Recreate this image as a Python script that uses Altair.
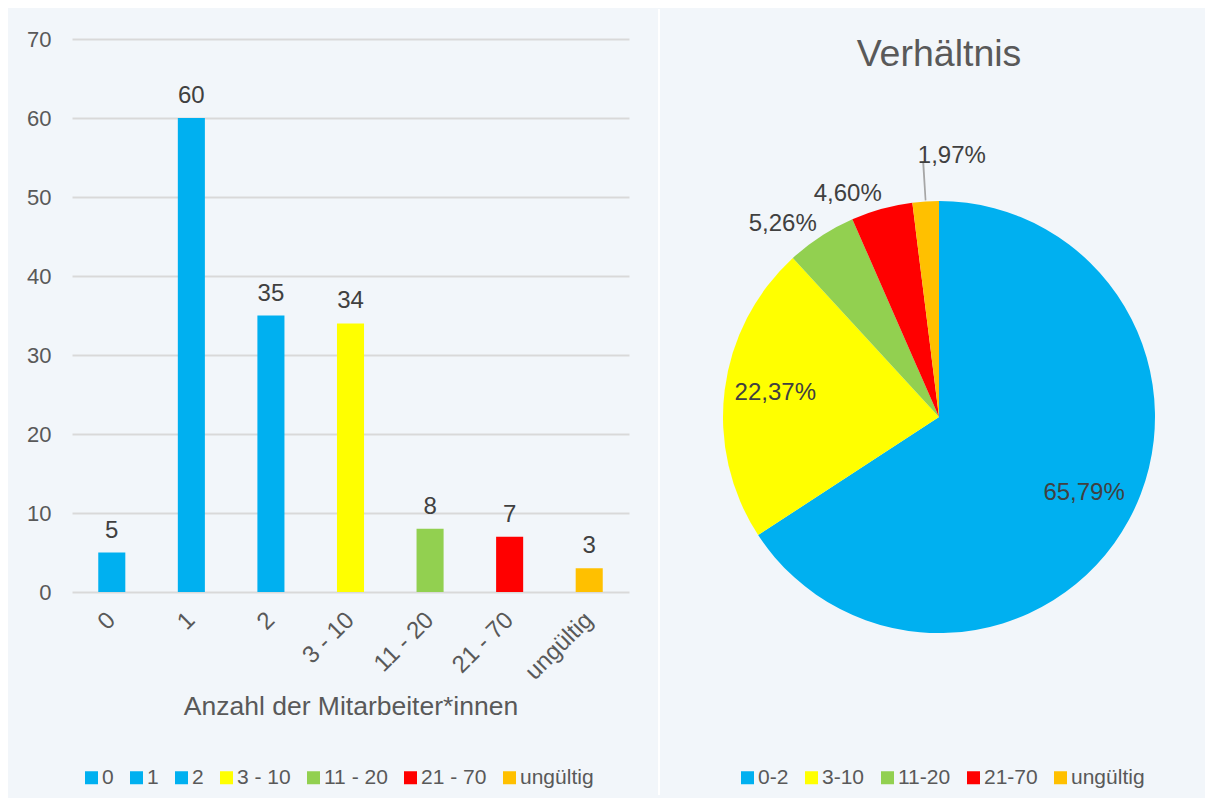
import altair as alt
import pandas as pd

# ---------------- data ----------------
bar_categories = ["0", "1", "2", "3 - 10", "11 - 20", "21 - 70", "ungültig"]
bar_values = [5, 60, 35, 34, 8, 7, 3]
bar_colors = ["#00B0F0", "#00B0F0", "#00B0F0", "#FFFF00", "#92D050", "#FF0000", "#FFC000"]
y_ticks = [0, 10, 20, 30, 40, 50, 60, 70]

pie_categories = ["0-2", "3-10", "11-20", "21-70", "ungültig"]
pie_shares = [65.79, 22.37, 5.26, 4.60, 1.97]
pie_colors = ["#00B0F0", "#FFFF00", "#92D050", "#FF0000", "#FFC000"]

# ---------------- style ----------------
FONT = "Liberation Sans"
AXIS_GREY = "#595959"
LABEL_GREY = "#404040"
BG = "#F2F6FA"

bar_df = pd.DataFrame({"kategorie": bar_categories, "anzahl": bar_values})
pie_df = pd.DataFrame({
    "gruppe": pie_categories,
    "anteil": pie_shares,
    "reihenfolge": list(range(len(pie_categories))),
})

# ---------------- left: bar chart ----------------
bar_color = alt.Color(
    "kategorie:N",
    sort=bar_categories,
    scale=alt.Scale(domain=bar_categories, range=bar_colors),
    legend=alt.Legend(
        orient="none", legendX=9, legendY=728, direction="horizontal",
        title=None, symbolType="square", symbolSize=169, symbolStrokeWidth=0,
        labelFontSize=21, labelColor=AXIS_GREY, labelFont=FONT,
        columnPadding=12, labelOffset=0,
    ),
)

x_enc = alt.X(
    "kategorie:N", sort=bar_categories, title="Anzahl der Mitarbeiter*innen",
    scale=alt.Scale(paddingInner=0.66, paddingOuter=0.33),
    axis=alt.Axis(
        labelAngle=-45, labelAlign="right", labelBaseline="middle",
        labelFontSize=24, labelPadding=24, labelColor=AXIS_GREY, labelFont=FONT,
        ticks=False, domain=False,
        titleFontSize=26.5, titleFont=FONT, titleColor=AXIS_GREY,
        titleFontWeight="normal", titlePadding=10,
    ),
)
y_enc = alt.Y(
    "anzahl:Q", title=None,
    scale=alt.Scale(domain=[0, 70], nice=False),
    axis=alt.Axis(
        values=y_ticks, labelFontSize=22, labelPadding=21, labelColor=AXIS_GREY,
        labelFont=FONT, ticks=False, domain=False,
        gridColor="#D9D9D9", gridWidth=2,
    ),
)

bars = alt.Chart(bar_df).mark_bar().encode(x=x_enc, y=y_enc, color=bar_color)
bar_labels = alt.Chart(bar_df).mark_text(
    baseline="alphabetic", dy=-15, fontSize=24, font=FONT, color=LABEL_GREY
).encode(
    x=alt.X("kategorie:N", sort=bar_categories),
    y=alt.Y("anzahl:Q"),
    text=alt.Text("anzahl:Q"),
)
# thin white gap that separates the two panels
separator = alt.Chart(bar_df).transform_aggregate(n="count()").mark_rule(
    color="white", strokeWidth=2
).encode(x=alt.value(587), y=alt.value(-30), y2=alt.value(756))

left = alt.layer(bars, bar_labels, separator).properties(width=557, height=553)

# ---------------- right: pie chart ----------------
pie_color = alt.Color(
    "gruppe:N",
    sort=pie_categories,
    scale=alt.Scale(domain=pie_categories, range=pie_colors),
    legend=alt.Legend(
        orient="none", legendX=63, legendY=728, direction="horizontal",
        title=None, symbolType="square", symbolSize=169, symbolStrokeWidth=0,
        labelFontSize=21, labelColor=AXIS_GREY, labelFont=FONT,
        columnPadding=12, labelOffset=0,
    ),
)

pie_base = alt.Chart(pie_df).transform_calculate(
    label="replace(format(datum.anteil, '.2f'), '.', ',') + '%'"
).encode(
    theta=alt.Theta("anteil:Q", stack=True),
    order=alt.Order("reihenfolge:Q"),
)

arcs = pie_base.mark_arc(outerRadius=216).encode(color=pie_color)

leader = alt.Chart(pie_df).transform_window(
    ende="sum(anteil)", sort=[alt.SortField("reihenfolge")], frame=[None, 0]
).transform_filter("datum.reihenfolge == 4").transform_calculate(
    a="datum.ende - datum.anteil / 2 - 0.06",
    b="datum.ende - datum.anteil / 2 + 0.06",
).mark_arc(innerRadius=217, outerRadius=256, color="#A6A6A6").encode(
    theta=alt.Theta("a:Q"), theta2="b:Q"
)

inner_labels = pie_base.transform_calculate(
    t="datum.reihenfolge < 2 ? datum.label : ''"
).mark_text(radius=165, dy=-3, fontSize=24, font=FONT, color=LABEL_GREY).encode(
    text="t:N", detail="gruppe:N"
)
outer_labels = pie_base.transform_calculate(
    t="(datum.reihenfolge == 2 || datum.reihenfolge == 3) ? datum.label : ''"
).mark_text(radius=231, align="right", dx=4, fontSize=24, font=FONT,
            color=LABEL_GREY).encode(text="t:N", detail="gruppe:N")
far_labels = pie_base.transform_calculate(
    t="datum.reihenfolge == 4 ? datum.label : ''"
).mark_text(radius=262, align="left", dx=-5, fontSize=24, font=FONT,
            color=LABEL_GREY).encode(text="t:N", detail="gruppe:N")

right = alt.layer(arcs, leader, inner_labels, outer_labels, far_labels).properties(
    width=530, height=756,
    title=alt.TitleParams(
        "Verhältnis", fontSize=37.5, font=FONT, color=AXIS_GREY,
        fontWeight="normal", offset=0, dy=34, anchor="middle",
    ),
)

chart = alt.hconcat(left, right, spacing=14).resolve_scale(
    color="independent"
).properties(
    padding={"left": 18, "top": 0, "right": 1, "bottom": 2}
).configure(background=BG, font=FONT).configure_view(stroke=None)

chart.save("out.html", embed_options={"renderer": "svg", "actions": False})
